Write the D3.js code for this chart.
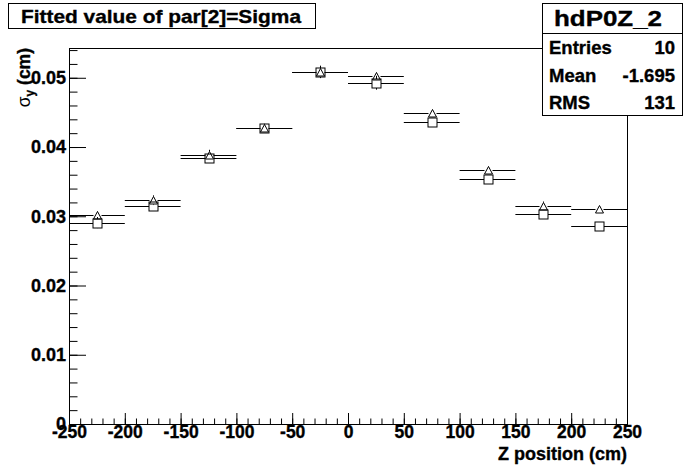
<!DOCTYPE html>
<html>
<meta charset='utf-8'>
<head>
    <script src="https://d3js.org/d3.v7.min.js"></script>
    <style>
      body { margin: 0; background: white; }
      text { font-family: 'Liberation Sans', Arial, sans-serif; font-weight: bold; stroke: black; stroke-width: 0.35px; }
      .tick text { stroke: black; stroke-width: 0.35px; }
    </style>
</head>
<body>
<div id='viz'></div>
<script>
    // bin centres of Z (cm), bin width 50
    let zCenters = [-225, -175, -125, -75, -25, 25, 75, 125, 175, 225];
    let binWidth = 50;

    // sigma values (triangles and squares)
    let sigmaTri = [0.03014, 0.03232, 0.0389, 0.04276, 0.05088, 0.0502, 0.04485, 0.03663, 0.03153, 0.03101];
    let errTri   = [0.0006, 0.0007, 0.0007, 0.0006, 0.0006, 0.0006, 0.0006, 0.0006, 0.0006, 0.0005];
    let sigmaSq  = [0.02909, 0.03143, 0.03846, 0.04273, 0.05085, 0.04928, 0.04355, 0.03543, 0.03029, 0.02866];
    let errSq    = [0.0008, 0.0005, 0.0005, 0.0005, 0.0009, 0.001, 0.0005, 0.0005, 0.0005, 0.0005];

    let xTicks = [-250, -200, -150, -100, -50, 0, 50, 100, 150, 200, 250];
    let yTicks = [0, 0.01, 0.02, 0.03, 0.04, 0.05];

    let statNames = ['Entries', 'Mean', 'RMS'];
    let statValues = ['10', '-1.695', '131'];

    function createViz() {
        let width = 696, height = 472;
        let left = 69, right = 627, top = 48, bottom = 424;

        let svg = d3.select('#viz').append('svg')
                    .attr('width', width)
                    .attr('height', height);

        let x = d3.scaleLinear().domain([-250, 250]).range([left, right]);
        let y = d3.scaleLinear().domain([0, 0.0543]).range([bottom, top]);
        let px = v => Math.round(v) + 0.5;

        // frame
        svg.append('rect')
            .attr('x', left + 0.5).attr('y', top + 0.5)
            .attr('width', right - left).attr('height', bottom - top)
            .attr('fill', 'none').attr('stroke', 'black');

        // x axis: major ticks with labels, then minor ticks
        let xAxis = svg.append('g')
            .attr('transform', `translate(0,${bottom})`)
            .call(d3.axisBottom(x).tickValues(xTicks).tickSizeInner(-11).tickSizeOuter(0).tickPadding(2)
                .tickFormat(d => String(d)));
        xAxis.select('.domain').remove();
        xAxis.selectAll('text').attr('font-size', '17.5px').attr('fill', 'black')
            .style('font-family', "'Liberation Sans', Arial, sans-serif");
        svg.append('g')
            .attr('transform', `translate(0,${bottom})`)
            .call(d3.axisBottom(x).tickValues(d3.range(-250, 251, 10)).tickSizeInner(-5.5).tickSizeOuter(0).tickFormat(''))
            .select('.domain').remove();

        // y axis
        let yAxis = svg.append('g')
            .attr('transform', `translate(${left},0)`)
            .call(d3.axisLeft(y).tickValues(yTicks).tickSizeInner(-17).tickSizeOuter(0).tickPadding(3)
                .tickFormat(d => d === 0 ? '0' : d3.format('.2f')(d)));
        yAxis.select('.domain').remove();
        yAxis.selectAll('text').attr('font-size', '18px').attr('fill', 'black')
            .style('font-family', "'Liberation Sans', Arial, sans-serif");
        svg.append('g')
            .attr('transform', `translate(${left},0)`)
            .call(d3.axisLeft(y).tickValues(d3.range(0, 0.0541, 0.002)).tickSizeInner(-8.5).tickSizeOuter(0).tickFormat(''))
            .select('.domain').remove();

        // axis titles
        svg.append('text')
            .attr('x', right).attr('y', 460)
            .attr('text-anchor', 'end')
            .attr('font-size', '18px')
            .text('Z position (cm)');

        let yt = svg.append('text')
            .attr('transform', `translate(30,${top}) rotate(-90)`)
            .attr('text-anchor', 'end')
            .attr('font-size', '17.5px');
        yt.append('tspan').style('font-weight', 'normal').style('stroke-width', 0).text('σ');
        yt.append('tspan').attr('font-size', '12px').attr('dy', 4).text('y');
        yt.append('tspan').attr('dy', -4).text(' (cm)');

        // error bars + markers, ROOT style: bars leave a gap around the marker
        function drawSeries(vals, errs, gap, marker) {
            let g = svg.append('g').attr('stroke', 'black').attr('fill', 'none');
            zCenters.forEach((z, i) => {
                let cx = px(x(z)), cy = px(y(vals[i]));
                let x0 = x(Math.max(z - binWidth / 2, -250)), x1 = x(Math.min(z + binWidth / 2, 250));
                g.append('line').attr('x1', x0).attr('x2', cx - gap).attr('y1', cy).attr('y2', cy);
                g.append('line').attr('x1', cx + gap).attr('x2', x1).attr('y1', cy).attr('y2', cy);
                let yHi = y(vals[i] + errs[i]), yLo = y(vals[i] - errs[i]);
                if (cy - yHi > gap) g.append('line').attr('x1', cx).attr('x2', cx).attr('y1', yHi).attr('y2', cy - gap);
                if (yLo - cy > gap) g.append('line').attr('x1', cx).attr('x2', cx).attr('y1', cy + gap).attr('y2', yLo);
                marker(g, cx, cy);
            });
        }

        drawSeries(sigmaTri, errTri, 4, (g, cx, cy) => {
            g.append('path')
                .attr('d', `M${cx - 4},${cy + 3.5}L${cx + 4},${cy + 3.5}L${cx},${cy - 4}Z`);
        });
        drawSeries(sigmaSq, errSq, 4.5, (g, cx, cy) => {
            g.append('rect')
                .attr('x', cx - 4.5).attr('y', cy - 4.5)
                .attr('width', 9).attr('height', 9);
        });

        // title box
        svg.append('rect')
            .attr('x', 8.5).attr('y', 3.5).attr('width', 307).attr('height', 25)
            .attr('fill', 'white').attr('stroke', 'black');
        svg.append('text')
            .attr('x', 21).attr('y', 22.5)
            .attr('font-size', '19px')
            .attr('textLength', 280).attr('lengthAdjust', 'spacingAndGlyphs')
            .text('Fitted value of par[2]=Sigma');

        // stats box
        let sx = 542.5, sy = 3.5, sw = 140, sh = 112;
        svg.append('rect')
            .attr('x', sx).attr('y', sy).attr('width', sw).attr('height', sh)
            .attr('fill', 'white').attr('stroke', 'black');
        svg.append('line')
            .attr('x1', sx).attr('x2', sx + sw).attr('y1', 33.5).attr('y2', 33.5)
            .attr('stroke', 'black');
        svg.append('text')
            .attr('x', 554).attr('y', 26)
            .attr('font-size', '22px')
            .attr('textLength', 108).attr('lengthAdjust', 'spacingAndGlyphs')
            .text('hdP0Z_2');
        let rowY = [53.5, 81.5, 109];
        statNames.forEach((n, i) => {
            svg.append('text').attr('x', 549).attr('y', rowY[i]).attr('font-size', '18.5px').text(n);
            svg.append('text').attr('x', 675).attr('y', rowY[i]).attr('text-anchor', 'end')
                .attr('font-size', '18.5px').text(statValues[i]);
        });
    }

    createViz();
</script>
</body>
</html>
